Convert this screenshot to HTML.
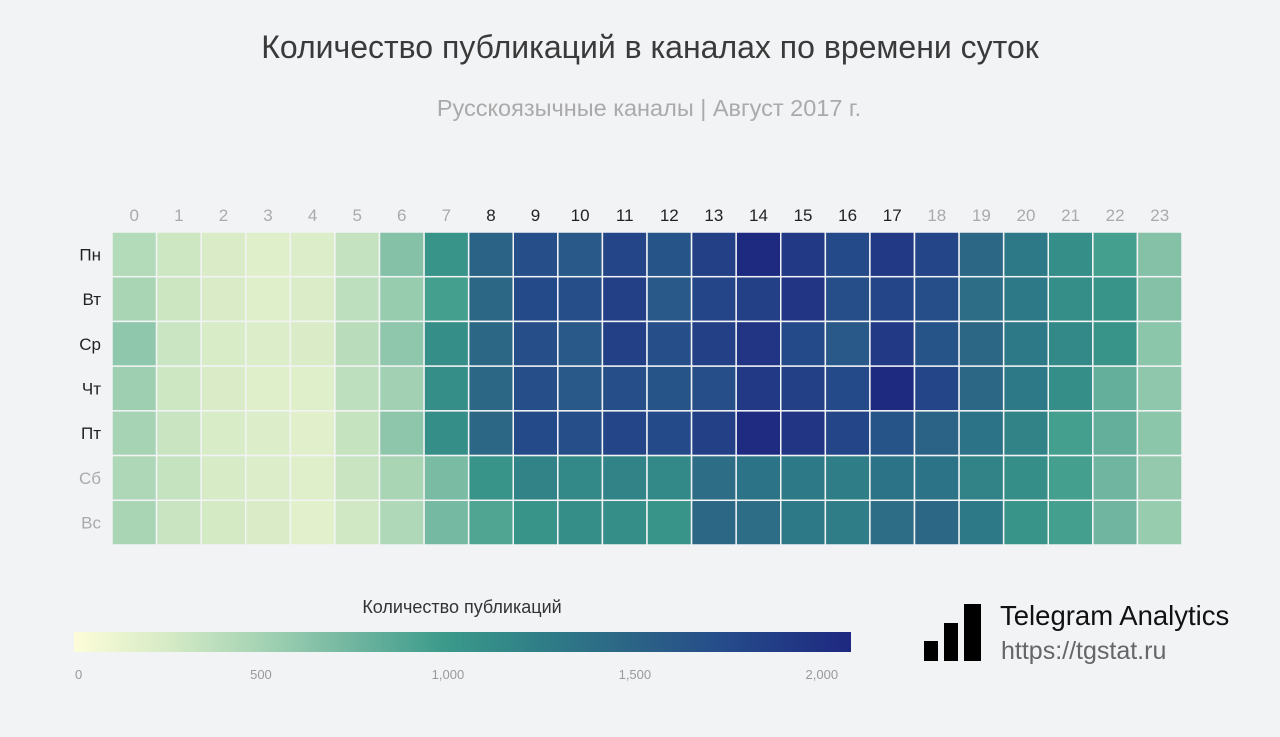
<!DOCTYPE html>
<html><head><meta charset="utf-8"><style>
body{margin:0;background:#f2f3f5;width:1280px;height:732px;overflow:hidden;font-family:"Liberation Sans",sans-serif;}
</style></head><body>
<svg width="1280" height="732">
<rect width="1280" height="732" fill="#f2f3f5"/>
<text x="650" y="58" text-anchor="middle" font-size="32" fill="#3a3a3a">Количество публикаций в каналах по времени суток</text>
<text x="649" y="116" text-anchor="middle" font-size="23.5" fill="#aaa">Русскоязычные каналы | Август 2017 г.</text>
<g id="cells"></g><g id="xl"></g><g id="yl"></g>
<defs><linearGradient id="cg" x1="0" x2="1"></linearGradient></defs>
<text x="462" y="613" text-anchor="middle" font-size="18" fill="#333">Количество публикаций</text>
<rect x="74" y="632" width="777" height="20" fill="url(#cg)"/>
<g id="ct"></g>
<g>
<rect x="924" y="641" width="14" height="20" fill="#000"/>
<rect x="944" y="623" width="14" height="38" fill="#000"/>
<rect x="964" y="604" width="17" height="57" fill="#000"/>
<text x="1000" y="625" font-size="27.5" fill="#111">Telegram Analytics</text>
<text x="1001" y="659" font-size="25" fill="#666">https://tgstat.ru</text>
</g>
</svg>
<script>
const hours=["0","1","2","3","4","5","6","7","8","9","10","11","12","13","14","15","16","17","18","19","20","21","22","23"];
const days=["Пн","Вт","Ср","Чт","Пт","Сб","Вс"];
const mon=[430,290,230,190,210,340,650,1050,1500,1700,1600,1800,1650,1850,2070,1900,1750,1900,1800,1450,1300,1100,950,650];
const tue=[480,300,230,190,220,370,560,950,1450,1750,1700,1850,1600,1800,1850,1950,1700,1800,1700,1400,1300,1100,1050,650];
const wed=[600,310,240,210,230,400,600,1100,1450,1700,1600,1850,1700,1850,1950,1750,1600,1900,1650,1450,1300,1150,1050,620];
const thu=[530,290,230,200,200,370,520,1100,1450,1700,1600,1700,1650,1700,1900,1850,1750,2070,1800,1450,1300,1100,800,600];
const fri=[500,320,240,210,180,330,610,1100,1450,1750,1700,1800,1750,1850,2050,1950,1800,1650,1500,1350,1200,950,800,620];
const sat=[460,330,250,210,200,320,480,700,1050,1200,1150,1200,1150,1400,1350,1300,1250,1350,1350,1200,1100,950,750,580];
const sun=[480,320,260,230,170,280,450,720,900,1050,1100,1100,1050,1450,1400,1300,1250,1400,1450,1300,1050,950,750,560];
const series=[mon,tue,wed,thu,fri,sat,sun];
const cbTicks=[0,500,1000,1500,2000];
const NS="http://www.w3.org/2000/svg";
const vmax=2078;
const stops=[[0,"#fcfdd8"],[250,"#d6ebc6"],[500,"#a5d3b4"],[750,"#6fb59f"],[1000,"#3a998a"],[1250,"#2f7e87"],[1500,"#2b6386"],[1750,"#254a8a"],[2078,"#1e2880"]];
function hex(h){return [1,3,5].map(i=>parseInt(h.substr(i,2),16));}
function color(v){for(let i=1;i<stops.length;i++){if(v<=stops[i][0]||i==stops.length-1){const a=stops[i-1],b=stops[i];let t=(v-a[0])/(b[0]-a[0]);t=Math.max(0,Math.min(1,t));const c1=hex(a[1]),c2=hex(b[1]);return "rgb("+c1.map((c,k)=>Math.round(c+(c2[k]-c)*t)).join(",")+")";}}}
const x0=112,x1=1182,y0=232,y1=545;
const cw=(x1-x0)/hours.length,ch=(y1-y0)/days.length;
const xs=i=>x0+i*cw, ys=j=>y0+j*ch;
const cells=document.getElementById('cells');
series.forEach((row,j)=>row.forEach((v,i)=>{
const r=document.createElementNS(NS,'rect');
r.setAttribute('x',xs(i));r.setAttribute('y',ys(j));r.setAttribute('width',cw);r.setAttribute('height',ch);
r.setAttribute('fill',color(v));r.setAttribute('stroke','#f2f3f5');r.setAttribute('stroke-width','1.5');


cells.appendChild(r);}));
const xl=document.getElementById('xl');
hours.forEach((h,i)=>{const t=document.createElementNS(NS,'text');
t.setAttribute('x',xs(i)+cw/2);t.setAttribute('y',221);t.setAttribute('text-anchor','middle');t.setAttribute('font-size','17');
t.setAttribute('fill',(i>=8&&i<=17)?'#222':'#aaa');t.textContent=h;


xl.appendChild(t);});
const yl=document.getElementById('yl');
days.forEach((d,j)=>{const t=document.createElementNS(NS,'text');
t.setAttribute('x',101);t.setAttribute('y',ys(j)+ch/2+6);t.setAttribute('text-anchor','end');t.setAttribute('font-size','17');
t.setAttribute('fill',j<5?'#222':'#aaa');t.textContent=d;


yl.appendChild(t);});
const g=document.getElementById('cg');
stops.forEach(s=>{const st=document.createElementNS(NS,'stop');st.setAttribute('offset',s[0]/vmax);st.setAttribute('stop-color',s[1]);g.appendChild(st);});
const ct=document.getElementById('ct');
const cbx=v=>74+v/vmax*777;
cbTicks.forEach(v=>{const t=document.createElementNS(NS,'text');
t.setAttribute('x',v===0?cbx(v)+1:cbx(v));t.setAttribute('y',679);t.setAttribute('text-anchor',v===0?'start':'middle');t.setAttribute('font-size','13');t.setAttribute('fill','#999');
t.textContent=v.toLocaleString('en-US');


ct.appendChild(t);});
</script>
</body></html>
